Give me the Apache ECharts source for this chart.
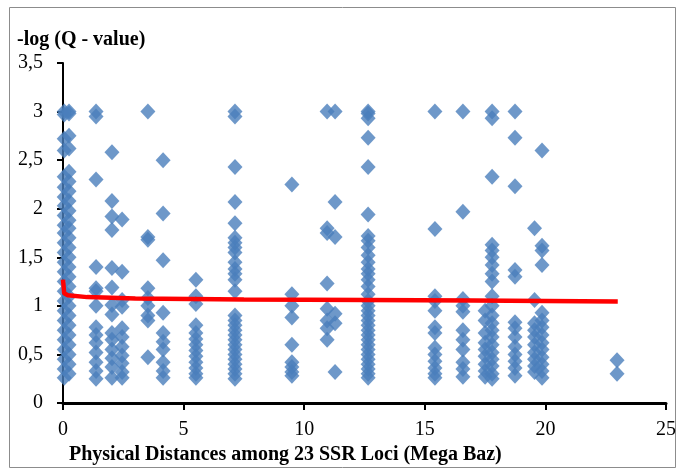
<!DOCTYPE html>
<html><head><meta charset="utf-8">
<script src="https://cdn.jsdelivr.net/npm/echarts@6/dist/echarts.min.js"></script>
<style>html,body{margin:0;padding:0;background:#fff}#c{width:679px;height:471px}</style>
</head><body><div id="c"></div>
<script>
// Column x positions (Mega Baz) and the -log(Q) values found at each
const colX = [0.05, 0.25, 1.37, 2.03, 2.45, 3.52, 4.15, 5.51, 7.13, 9.49, 10.95, 11.28, 12.65, 15.42, 16.58, 17.5, 17.79, 18.74, 19.55, 19.86, 22.97];
const colA1 = [3.0, 2.97, 2.72, 2.6, 2.33, 2.22, 2.12, 2.03, 1.93, 1.83, 1.75, 1.65, 1.55, 1.45, 1.35, 1.25, 1.15, 1.05, 0.95, 0.85, 0.75, 0.65, 0.55, 0.45, 0.35, 0.26];
const colA2 = [3.0, 2.98, 2.75, 2.62, 2.38, 2.28, 2.18, 2.08, 1.98, 1.88, 1.8, 1.7, 1.6, 1.5, 1.4, 1.3, 1.2, 1.1, 1.0, 0.9, 0.8, 0.7, 0.6, 0.5, 0.4, 0.3];
const colB = [3.0, 2.95, 2.3, 1.4, 1.18, 1.15, 1.0, 0.78, 0.7, 0.62, 0.52, 0.42, 0.33, 0.25];
const colC = [2.58, 2.08, 1.92, 1.78, 1.39, 1.19, 1.01, 0.91, 0.72, 0.65, 0.55, 0.46, 0.37, 0.26];
const colD = [1.89, 1.35, 1.06, 0.99, 0.77, 0.68, 0.58, 0.49, 0.41, 0.32, 0.26];
const colE = [3.0, 1.71, 1.68, 1.18, 1.08, 1.0, 0.9, 0.85, 0.47];
const colF = [2.5, 1.95, 1.47, 0.93, 0.72, 0.63, 0.55, 0.42, 0.33, 0.26];
const colG = [1.27, 1.1, 1.02, 0.8, 0.72, 0.66, 0.6, 0.54, 0.48, 0.42, 0.36, 0.3, 0.26];
const colH = [3.0, 2.95, 2.43, 2.07, 1.85, 1.7, 1.65, 1.6, 1.55, 1.45, 1.38, 1.33, 1.27, 1.15, 0.9, 0.85, 0.8, 0.75, 0.7, 0.65, 0.6, 0.55, 0.5, 0.45, 0.4, 0.35, 0.3, 0.25];
const colI = [2.25, 1.12, 1.0, 0.88, 0.6, 0.42, 0.37, 0.32, 0.28];
const colJ = [3.0, 1.8, 1.75, 1.23, 0.97, 0.85, 0.77, 0.65];
const colK = [3.0, 2.07, 1.71, 0.92, 0.82, 0.32];
const colL = [3.0, 2.98, 2.93, 2.73, 2.43, 1.94, 1.72, 1.67, 1.6, 1.52, 1.45, 1.38, 1.33, 1.27, 1.2, 1.12, 1.05, 1.0, 0.95, 0.9, 0.85, 0.8, 0.75, 0.7, 0.65, 0.6, 0.55, 0.5, 0.45, 0.4, 0.35, 0.3, 0.26];
const colM = [3.0, 1.79, 1.1, 1.05, 0.95, 0.78, 0.72, 0.57, 0.5, 0.43, 0.36, 0.3, 0.26];
const colN = [3.0, 1.97, 1.07, 1.0, 0.94, 0.75, 0.65, 0.55, 0.42, 0.35, 0.27];
const colO2 = [0.95, 0.85, 0.72, 0.62, 0.55, 0.48, 0.4, 0.33, 0.27];
const colO = [3.0, 2.93, 2.33, 1.63, 1.57, 1.5, 1.42, 1.33, 1.25, 1.1, 1.0, 0.9, 0.82, 0.75, 0.68, 0.6, 0.52, 0.45, 0.38, 0.3, 0.25];
const colP = [3.0, 2.73, 2.23, 1.37, 1.3, 0.83, 0.77, 0.68, 0.58, 0.5, 0.43, 0.36, 0.28];
const colQ = [1.8, 1.06, 0.82, 0.75, 0.68, 0.6, 0.52, 0.45, 0.38, 0.32];
const colQ2 = [2.6, 1.62, 1.57, 1.42, 0.93, 0.85, 0.78, 0.7, 0.62, 0.55, 0.47, 0.4, 0.33, 0.26];
const colR = [0.44, 0.3];
const colYs = [colA1, colA2, colB, colC, colD, colE, colF, colG, colH, colI, colJ, colK, colL, colM, colN, colO2, colO, colP, colQ, colQ2, colR];

// Logarithmic trend line
const trendX = [0, 0.05, 0.2, 1, 3, 7.5, 12.6, 17, 23];
const trendY = [1.27, 1.13, 1.11, 1.09, 1.075, 1.065, 1.06, 1.055, 1.045];

const xTickLabels = ['0', '5', '10', '15', '20', '25'];
const yTickLabels = ['0', '0,5', '1', '1,5', '2', '2,5', '3', '3,5'];

const points = [];
colYs.forEach((ys, i) => ys.forEach(y => points.push([colX[i], y])));
const trend = trendX.map((x, i) => [x, trendY[i]]);

const font = 'Liberation Serif';
const chart = echarts.init(document.getElementById('c'), null, {renderer: 'canvas'});
chart.setOption({
  backgroundColor: '#ffffff',
  animation: false,
  grid: {left: 63, right: 13, top: 63, bottom: 68},
  xAxis: {
    type: 'value', min: 0, max: 25, interval: 5,
    axisLine: {show: true, onZero: false, lineStyle: {color: '#000', width: 3}},
    axisTick: {show: true, inside: false, length: 7, lineStyle: {color: '#000', width: 2}},
    axisLabel: {margin: 17, color: '#000', fontFamily: font, fontSize: 20,
      formatter: v => xTickLabels[Math.round(v / 5)]},
    splitLine: {show: false}
  },
  yAxis: {
    type: 'value', min: 0, max: 3.5, interval: 0.5,
    axisLine: {show: true, lineStyle: {color: '#000', width: 2}},
    axisTick: {show: true, inside: false, length: 6, lineStyle: {color: '#000', width: 2}},
    axisLabel: {margin: 20, color: '#000', fontFamily: font, fontSize: 20,
      formatter: v => yTickLabels[Math.round(v / 0.5)]},
    splitLine: {show: false}
  },
  graphic: [
    {type: 'rect', shape: {x: 9.5, y: 7.5, width: 666, height: 460}, style: {fill: 'none', stroke: '#8c8c8c', lineWidth: 1}, z: -1},
    {type: 'text', left: 17, top: 30, style: {text: '-log (Q - value)', font: 'bold 20px "Liberation Serif"', fill: '#000'}},
    {type: 'text', left: 69, top: 445, style: {text: 'Physical Distances among 23 SSR Loci (Mega Baz)', font: 'bold 20px "Liberation Serif"', fill: '#000'}}
  ],
  series: [
    {type: 'scatter', data: points, symbol: 'diamond', symbolSize: [15, 16],
      itemStyle: {color: '#4A7EBB'}, z: 2},
    {type: 'line', data: trend, showSymbol: false, symbol: 'none', smooth: false,
      lineStyle: {color: '#FF0000', width: 4.5}, z: 3}
  ]
});
</script></body></html>
